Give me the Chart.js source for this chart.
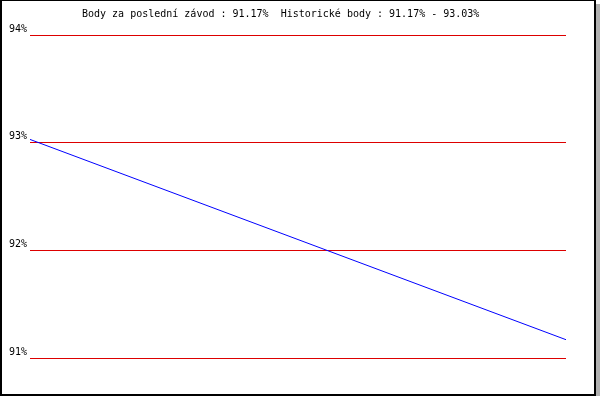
<!DOCTYPE html>
<html>
<head>
<meta charset="utf-8">
<script src="https://cdn.jsdelivr.net/npm/chart.js@4/dist/chart.umd.min.js"></script>
<style>
    body { margin: 0; background: #fff; }
    .frame {
        position: relative;
        width: 596px;
        height: 396px;
        box-sizing: border-box;
        border: 2px solid #000;
        border-top-width: 1px;
        background: #fff;
        box-shadow: 4px 4px 0 #b0b0b0;
    }
    .frame canvas { position: absolute; left: -2px; top: -1px; }
</style>
</head>
<body>
<div class="frame">
    <canvas id="pointsChart" width="596" height="396"></canvas>
</div>
<script>
// Chart data
const races = ['1', '2'];
const points = [93.03, 91.17];
const yTicks = [91, 92, 93, 94];
const titleText = 'Body za poslední závod : 91.17%  Historické body : 91.17% - 93.03%';

const monoFont = { family: '"DejaVu Sans Mono", "Liberation Mono", monospace', size: 10 };

// Title drawn at a fixed spot like the original
const topTitle = {
    id: 'topTitle',
    afterDraw(chart) {
        const ctx = chart.ctx;
        ctx.save();
        ctx.font = monoFont.size + 'px ' + monoFont.family;
        ctx.fillStyle = '#000';
        ctx.textAlign = 'left';
        ctx.textBaseline = 'alphabetic';
        ctx.fillText(titleText, 82, 17);
        ctx.restore();
    }
};

const ctx = document.getElementById('pointsChart').getContext('2d');
new Chart(ctx, {
    type: 'line',
    data: {
        labels: races,
        datasets: [{
            data: points,
            borderColor: '#0000ff',
            borderWidth: 1,
            pointRadius: 0,
            tension: 0,
            fill: false
        }]
    },
    options: {
        responsive: false,
        animation: false,
        layout: {
            padding: { left: 0, right: 30, top: 35, bottom: 38 }
        },
        plugins: {
            legend: { display: false },
            tooltip: { enabled: false }
        },
        scales: {
            x: {
                display: false,
                offset: false
            },
            y: {
                min: yTicks[0],
                max: yTicks[yTicks.length - 1],
                afterBuildTicks: function(scale) {
                    scale.ticks = yTicks.map(v => ({ value: v }));
                },
                afterFit: function(scale) {
                    scale.width = 30;
                },
                border: { display: false },
                grid: {
                    color: '#dd0000',
                    lineWidth: 1,
                    drawTicks: false
                },
                ticks: {
                    color: '#000',
                    font: monoFont,
                    padding: 3,
                    labelOffset: -6,
                    callback: function(value) {
                        return value + '%';
                    }
                }
            }
        }
    },
    plugins: [topTitle]
});
</script>
</body>
</html>
